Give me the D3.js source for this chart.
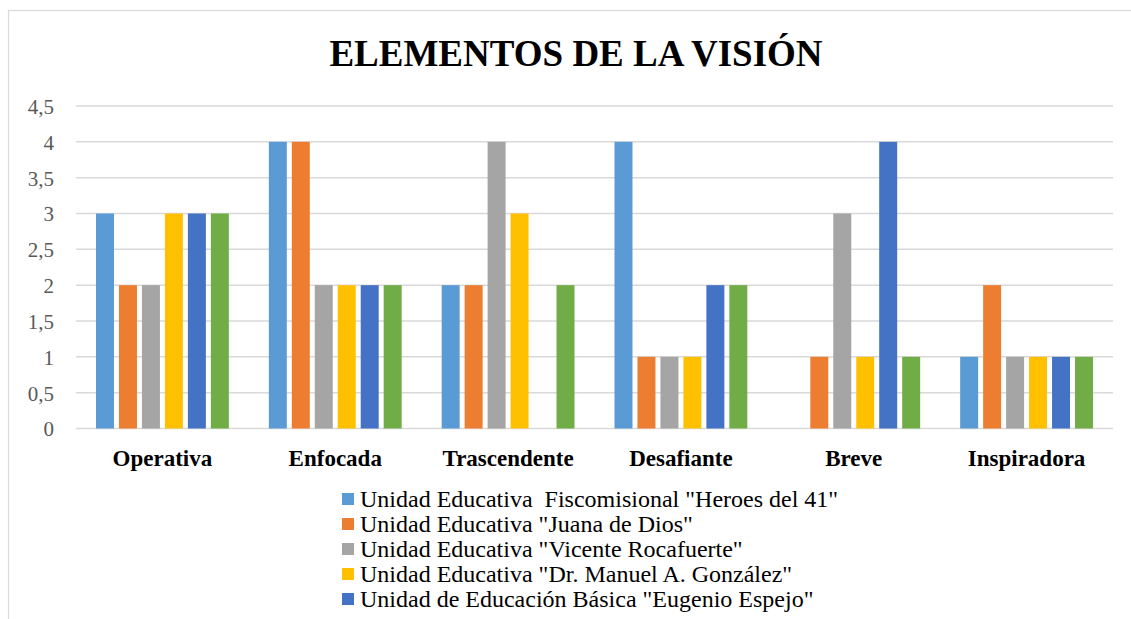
<!DOCTYPE html>
<html>
<head>
<meta charset="utf-8">
<script src="https://cdn.jsdelivr.net/npm/d3@7"></script>
<style>
  body { margin: 0; background: #fff; overflow: hidden; }
</style>
</head>
<body>
<div id="chart"></div>
<script>
// Chart data
var categories = ["Operativa", "Enfocada", "Trascendente", "Desafiante", "Breve", "Inspiradora"];
// only the five legend names visible in the picture (the sixth, green one is cut off)
var seriesNames = [
  'Unidad Educativa  Fiscomisional "Heroes del 41"',
  'Unidad Educativa "Juana de Dios"',
  'Unidad Educativa "Vicente Rocafuerte"',
  'Unidad Educativa "Dr. Manuel A. González"',
  'Unidad de Educación Básica "Eugenio Espejo"'
];
var heroes    = [3, 4, 2, 4, 0, 1];
var juana     = [2, 4, 2, 1, 1, 2];
var vicente   = [2, 2, 4, 1, 3, 1];
var gonzalez  = [3, 2, 3, 1, 1, 1];
var espejo    = [3, 2, 0, 2, 4, 1];
var sexta     = [3, 2, 2, 2, 1, 1];
var seriesValues = [heroes, juana, vicente, gonzalez, espejo, sexta];
var yTicks = [0, 0.5, 1, 1.5, 2, 2.5, 3, 3.5, 4, 4.5];
var colors = ["#5B9BD5", "#ED7D31", "#A5A5A5", "#FFC000", "#4472C4", "#70AD47"];

var W = 1131, H = 619;
var plot = { left: 76, right: 1113, top: 106, bottom: 428.5 };

var svg = d3.select("#chart")
  .append("svg")
  .attr("width", W)
  .attr("height", H);

// Outer chart frame
svg.append("rect")
  .attr("x", 8.5).attr("y", 10.5)
  .attr("width", 1136).attr("height", 640)
  .attr("fill", "#fff")
  .attr("stroke", "#d9d9d9")
  .attr("stroke-width", 1.2);

// Title
svg.append("text")
  .attr("x", 576)
  .attr("y", 66)
  .attr("text-anchor", "middle")
  .style("font-family", "'Liberation Serif', 'Times New Roman', serif")
  .style("font-weight", "bold")
  .style("font-size", "37px")
  .style("fill", "#000")
  .text("ELEMENTOS DE LA VISIÓN");

// Scales
var x0 = d3.scaleBand()
  .domain(categories)
  .range([plot.left, plot.right]);

var x1 = d3.scaleBand()
  .domain(d3.range(seriesValues.length))
  .range([20, x0.bandwidth() - 20])
  .paddingInner(0.217);

var y = d3.scaleLinear()
  .domain([0, 4.5])
  .range([plot.bottom, plot.top]);

// Gridlines
svg.append("g")
  .selectAll("line")
  .data(yTicks)
  .join("line")
  .attr("x1", plot.left)
  .attr("x2", plot.right)
  .attr("y1", function (d) { return y(d); })
  .attr("y2", function (d) { return y(d); })
  .attr("stroke", "#d9d9d9")
  .attr("stroke-width", 1.5);

// Y axis labels
var yAxis = d3.axisLeft(y)
  .tickValues(yTicks)
  .tickSize(0)
  .tickPadding(0)
  .tickFormat(function (d) { return String(d).replace(".", ","); });
var yg = svg.append("g")
  .attr("transform", "translate(54,0)")
  .call(yAxis);
yg.select(".domain").remove();
yg.selectAll("text")
  .attr("dy", "0.35em")
  .style("font-family", "'Liberation Serif', 'Times New Roman', serif")
  .style("font-size", "21px")
  .style("fill", "#595959");

// Bars
var groups = svg.append("g")
  .selectAll("g")
  .data(categories)
  .join("g")
  .attr("transform", function (d) { return "translate(" + x0(d) + ",0)"; });

groups.selectAll("rect")
  .data(function (d, i) {
    return seriesValues.map(function (s, j) { return { s: j, v: s[i] }; });
  })
  .join("rect")
  .attr("x", function (d) { return x1(d.s); })
  .attr("width", x1.bandwidth())
  .attr("y", function (d) { return y(d.v); })
  .attr("height", function (d) { return y(0) - y(d.v); })
  .attr("fill", function (d) { return colors[d.s]; });

// X axis labels
var xAxis = d3.axisBottom(x0).tickSize(0).tickPadding(0);
var xg = svg.append("g")
  .attr("transform", "translate(0," + plot.bottom + ")")
  .call(xAxis);
xg.select(".domain").remove();
xg.selectAll("text")
  .attr("y", 37)
  .attr("dy", 0)
  .style("font-family", "'Liberation Serif', 'Times New Roman', serif")
  .style("font-weight", "bold")
  .style("font-size", "23px")
  .style("fill", "#000");

// Legend
var legend = svg.append("g")
  .selectAll("g")
  .data(seriesNames)
  .join("g")
  .attr("transform", function (d, i) { return "translate(342," + (507 + i * 25) + ")"; });

legend.append("rect")
  .attr("x", 0)
  .attr("y", -14)
  .attr("width", 12)
  .attr("height", 12)
  .attr("fill", function (d, i) { return colors[i]; });

legend.append("text")
  .attr("x", 18)
  .attr("y", 0)
  .style("font-family", "'Liberation Serif', 'Times New Roman', serif")
  .style("font-size", "24px")
  .style("fill", "#000")
  .style("white-space", "pre")
  .attr("xml:space", "preserve")
  .text(function (d) { return d; });
</script>
</body>
</html>
